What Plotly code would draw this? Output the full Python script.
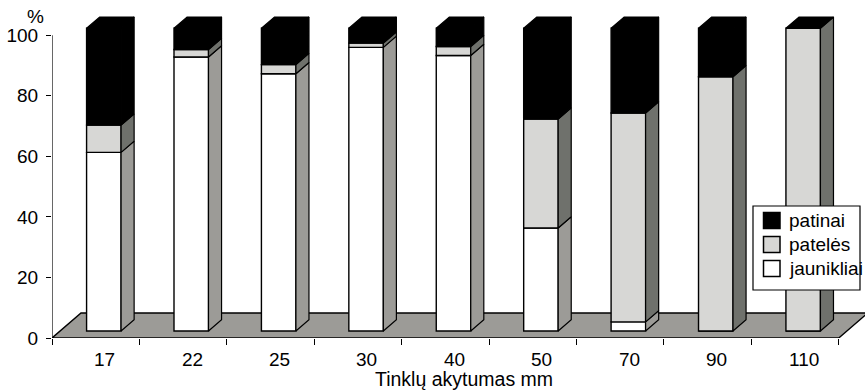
import plotly.graph_objects as go

# Mesh size categories and the share (%) of each fish group
sizes = ["17", "22", "25", "30", "40", "50", "70", "90", "110"]
jaunikliai = [59, 90.5, 85, 93.7, 91, 34, 3, 0, 0]
pateles = [9, 2.5, 3, 1.4, 3, 36, 69, 84, 100]
patinai = [32, 7, 12, 4.9, 6, 30, 28, 16, 0]

series = [
    ("jaunikliai", jaunikliai, "#ffffff", "#9c9b97"),
    ("patelės", pateles, "#d7d7d5", "#6f716c"),
    ("patinai", patinai, "#000000", "#000000"),
]

FONT = "Liberation Sans, Arial, sans-serif"
FS = 19

# Canvas and plot-area geometry
W, H = 865, 390
ML, MR, MT, MB = 52, 0, 5, 52
PW, PH = W - ML - MR, H - MT - MB
XR = [0, len(sizes) + 0.3]
YR = [0, 110]
px_x = PW / (XR[1] - XR[0])
px_y = PH / (YR[1] - YR[0])

# Oblique projection for the pseudo-3D look (floor depth in pixels)
DEPTH_PX = (29, 25)
fx, fy = DEPTH_PX[0] / px_x, DEPTH_PX[1] / px_y
Z_FRONT, Z_BACK = 0.28, 0.73
BAR_W = 34.5 / px_x

lift_x, lift_y = Z_FRONT * fx, Z_FRONT * fy
dep_x, dep_y = (Z_BACK - Z_FRONT) * fx, (Z_BACK - Z_FRONT) * fy

centers = [i + 0.5 + lift_x for i in range(len(sizes))]

fig = go.Figure()

# Front faces of the stacked columns
cum = [0.0] * len(sizes)
side_paths = {}
for name, vals, face, side in series:
    bases = [lift_y + c for c in cum]
    fig.add_trace(go.Bar(
        x=centers, y=vals, base=bases, width=BAR_W, name=name,
        marker=dict(color=face, line=dict(color="#000000", width=1.4)),
        showlegend=False, hoverinfo="skip",
    ))
    xs, ys = side_paths.setdefault(side, ([], []))
    for c, b, v in zip(centers, bases, vals):
        if v <= 0:
            continue
        xr = c + BAR_W / 2
        xs += [xr, xr + dep_x, xr + dep_x, xr, xr, None]
        ys += [b, b + dep_y, b + v + dep_y, b + v, b, None]
    cum = [c + v for c, v in zip(cum, vals)]

# Side faces of every segment
for side, (xs, ys) in side_paths.items():
    fig.add_trace(go.Scatter(
        x=xs, y=ys, mode="lines", fill="toself", fillcolor=side,
        line=dict(color="#000000", width=1.2), showlegend=False, hoverinfo="skip",
    ))

# Top faces of the stacks
tx, ty = [], []
for c, tot in zip(centers, cum):
    xl, xr, t = c - BAR_W / 2, c + BAR_W / 2, lift_y + tot
    tx += [xl, xl + dep_x, xr + dep_x, xr, xl, None]
    ty += [t, t + dep_y, t + dep_y, t, t, None]
fig.add_trace(go.Scatter(
    x=tx, y=ty, mode="lines", fill="toself", fillcolor="#000000",
    line=dict(color="#000000", width=1.2), showlegend=False, hoverinfo="skip",
))

n = len(sizes)
floor_path = f"M 0,0 L {n},0 L {n + fx},{fy} L {fx},{fy} Z"
shapes = [
    dict(type="path", path=floor_path, xref="x", yref="y", layer="below",
         fillcolor="#9c9b97", line=dict(color="#000000", width=1.4)),
    dict(type="line", xref="x", yref="y", x0=0, x1=0, y0=0, y1=100,
         line=dict(color="#000000", width=1.2)),
]

def px_to_paper(xp, yp):
    return (xp - ML) / PW, 1 - (yp - MT) / PH

annotations = [
    dict(x=i + 0.5, y=0, xref="x", yref="y", text=s, showarrow=False,
         xshift=9, yshift=-21, xanchor="center", yanchor="middle")
    for i, s in enumerate(sizes)
]
tx_p, _ = px_to_paper(464, 0)
annotations.append(dict(x=tx_p, y=0, xref="paper", yref="y",
                        text="Tinklų akytumas mm", showarrow=False, yshift=-41,
                        xanchor="center", yanchor="middle",
                        font=dict(size=19.5)))
px_, py_ = px_to_paper(35, 16.5)
annotations.append(dict(x=px_, y=py_, xref="paper", yref="paper", text="%",
                        showarrow=False, xanchor="center", yanchor="middle"))

# Legend box with swatches and labels
LEG = dict(x0=753, y0=206, x1=860, y1=290)
lx0, ly0 = px_to_paper(LEG["x0"], LEG["y0"])
lx1, ly1 = px_to_paper(LEG["x1"], LEG["y1"])
shapes.append(dict(type="rect", xref="paper", yref="paper",
                   x0=lx0, x1=lx1, y0=ly1, y1=ly0,
                   fillcolor="#ffffff", line=dict(color="#000000", width=1.2)))
legend_rows = list(reversed(series))
for k, (name, _, face, _) in enumerate(legend_rows):
    cy = 220.5 + 24 * k
    sx0, sy0 = px_to_paper(763.5, cy - 8)
    sx1, sy1 = px_to_paper(780, cy + 8)
    shapes.append(dict(type="rect", xref="paper", yref="paper",
                       x0=sx0, x1=sx1, y0=sy1, y1=sy0, fillcolor=face,
                       line=dict(color="#000000", width=1.5)))
    ax, ay = px_to_paper(787, cy)
    annotations.append(dict(x=ax, y=ay, xref="paper", yref="paper", text=name,
                            showarrow=False, xanchor="left", yanchor="middle"))

fig.update_layout(
    width=W, height=H,
    margin=dict(l=ML, r=MR, t=MT, b=MB),
    paper_bgcolor="#ffffff", plot_bgcolor="#ffffff",
    barmode="overlay", showlegend=False,
    font=dict(family=FONT, size=FS, color="#000000"),
    shapes=shapes,
    annotations=annotations,
    xaxis=dict(
        range=XR, showgrid=False, zeroline=False, showline=False,
        tickmode="array", tickvals=list(range(n + 1)), ticktext=[""] * (n + 1),
        ticks="outside", ticklen=6, tickcolor="#000000", tickwidth=1,
        fixedrange=True,
    ),
    yaxis=dict(
        range=YR, showgrid=False, zeroline=False, showline=False,
        tickmode="array", tickvals=[0, 20, 40, 60, 80, 100],
        ticks="outside", ticklen=5, tickcolor="#000000", tickwidth=1,
        ticklabelstandoff=4, fixedrange=True,
    ),
)

fig.write_html("out.html")
